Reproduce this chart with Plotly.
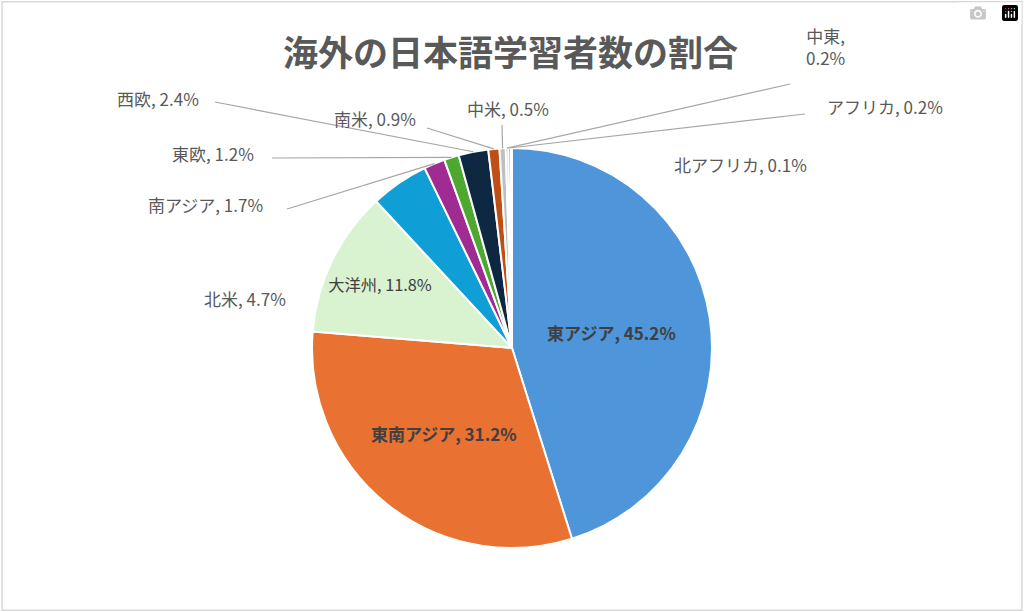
import math
import plotly.graph_objects as go

labels = ["東アジア", "東南アジア", "大洋州", "北米", "南アジア", "東欧", "西欧", "南米", "中米", "中東", "アフリカ", "北アフリカ"]
values = [45.2, 31.2, 11.8, 4.7, 1.7, 1.2, 2.4, 0.9, 0.5, 0.2, 0.2, 0.1]
colors = ["#4E95D9", "#E97132", "#D9F2D0", "#0F9ED5", "#A02B93", "#4EA72E", "#0E2841", "#C04F15", "#BFBFBF", "#7F7F7F", "#3B7D23", "#D9D9D9"]

W, H = 1024, 612
cx, cy, r = 512, 348, 200

inside_text = []
for i, (l, v) in enumerate(zip(labels, values)):
    if i < 2:
        inside_text.append(f"<b>{l}, {v}%</b>")
    elif i == 2:
        inside_text.append(f"{l}, {v}%")
    else:
        inside_text.append("")

fig = go.Figure(go.Pie(
    labels=labels, values=values, text=inside_text, textinfo="text",
    textposition="inside", insidetextorientation="horizontal",
    sort=False, direction="clockwise", rotation=0,
    marker=dict(colors=colors, line=dict(color="white", width=2)),
    textfont=dict(size=17, color="#404040", family="Noto Sans CJK JP"),
    domain=dict(x=[(cx - r) / W, (cx + r) / W], y=[1 - (cy + r) / H, 1 - (cy - r) / H]),
    showlegend=False, hoverinfo="skip",
))

outside = {
    "北米": (245, 298, None),
    "南アジア": (205, 205, (287, 209)),
    "東欧": (213, 153, (272, 158)),
    "西欧": (158, 99, (215, 102)),
    "南米": (375, 119, (427, 128)),
    "中米": (508, 108, (502, 125)),
    "中東": (825, 47, (790, 84)),
    "アフリカ": (885, 106, (805, 114)),
    "北アフリカ": (740, 165, None),
}

total = sum(values)
cum = 0
anns, shapes = [], []
for l, v in zip(labels, values):
    mid = (cum + v / 2) / total
    cum += v
    if l not in outside:
        continue
    x, y, ls = outside[l]
    txt = f"{l},<br>{v}%" if l == "中東" else f"{l}, {v}%"
    anns.append(dict(x=x / W, y=1 - y / H, xref="paper", yref="paper", text=txt,
                     showarrow=False, xanchor="center", yanchor="middle",
                     font=dict(size=17, color="#595959", family="Noto Sans CJK JP")))
    if ls:
        th = math.pi / 2 - 2 * math.pi * mid
        ex, ey = cx + r * math.cos(th), cy - r * math.sin(th)
        shapes.append(dict(type="line", xref="paper", yref="paper",
                           x0=ls[0] / W, y0=1 - ls[1] / H, x1=ex / W, y1=1 - ey / H,
                           line=dict(color="#A6A6A6", width=1.2)))

anns.append(dict(x=510 / W, y=1 - 50 / H, xref="paper", yref="paper",
                 text="<b>海外の日本語学習者数の割合</b>", showarrow=False,
                 xanchor="center", yanchor="middle",
                 font=dict(size=35, color="#595959", family="Noto Sans CJK JP")))
shapes.append(dict(type="rect", xref="paper", yref="paper", x0=0.002, y0=0.003, x1=0.998, y1=0.997,
                   line=dict(color="#D9D9D9", width=1.5)))

fig.update_layout(autosize=True, margin=dict(l=0, r=0, t=0, b=0),
                  paper_bgcolor="white", annotations=anns, shapes=shapes)
html = fig.to_html(full_html=True, default_width="100vw", default_height="100vh", config={"responsive": True})
html = html.replace("<head>", "<head><style>html,body{margin:0;padding:0;overflow:hidden;}</style>", 1)
with open("out.html", "w", encoding="utf-8") as f:
    f.write(html)
